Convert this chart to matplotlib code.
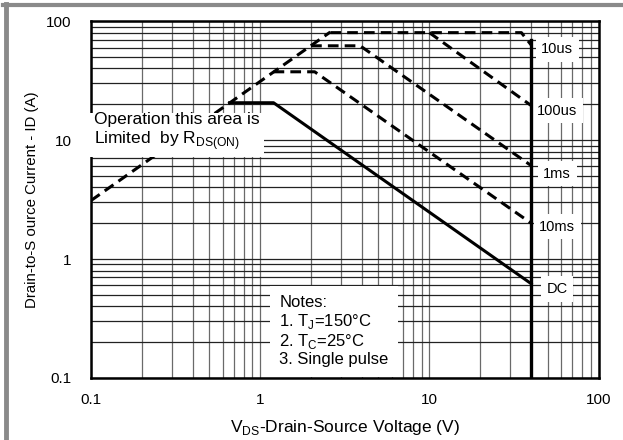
import matplotlib
matplotlib.use('Agg')
import matplotlib.pyplot as plt
from matplotlib.lines import Line2D
from matplotlib.ticker import FixedLocator, NullFormatter


# Safe operating area curves (V, A)

RDS_V = [0.1, 2.6]
RDS_I = [3.1, 81]

US10_V = [2.6, 35, 40]
US10_I = [80, 80, 63]

US100_V = [10, 40]
US100_I = [80, 19.5]

MS1_V = [2.0, 3.9, 40]
MS1_I = [62, 62, 6.1]

MS10_V = [1.2, 2.1, 40]
MS10_I = [37.5, 37.5, 2.0]

DC_V = [0.66, 1.2, 40]
DC_I = [20.6, 20.6, 0.62]

VMAX_V = [40, 40]
VMAX_I = [0.1, 70]

CURVE_LABELS = ['10us', '100us', '1ms', '10ms', 'DC']
TICKS = [0.1, 1, 10, 100]
TICK_LABELS = ['0.1', '1', '10', '100']

FONT = ['Liberation Sans', 'DejaVu Sans']
DASH = (0, (3.5, 2))


def init_fig():
    fig = plt.figure(figsize=(6.23, 4.40), dpi=100)
    # grey frame on the left and top edge, like the screenshot
    fig.add_artist(Line2D([0.009, 0.009], [0, 0.99], color='#8a8a8a',
                          linewidth=3.5, transform=fig.transFigure))
    fig.add_artist(Line2D([0.005, 1], [0.988, 0.988], color='#8a8a8a',
                          linewidth=3, transform=fig.transFigure))
    ax = fig.add_axes([0.146, 0.141, 0.8147, 0.811])
    return fig, ax


def setup_axes(ax):
    ax.set_xscale('log')
    ax.set_yscale('log')
    ax.set_xlim(0.1, 100)
    ax.set_ylim(0.1, 100)
    minors = [m * 10.0 ** e for e in range(-1, 2) for m in range(2, 10)]
    ax.xaxis.set_major_locator(FixedLocator(TICKS))
    ax.yaxis.set_major_locator(FixedLocator(TICKS))
    ax.xaxis.set_minor_locator(FixedLocator(minors))
    ax.yaxis.set_minor_locator(FixedLocator(minors))
    ax.xaxis.set_minor_formatter(NullFormatter())
    ax.yaxis.set_minor_formatter(NullFormatter())
    ax.set_xticklabels(TICK_LABELS, fontfamily=FONT, fontsize=11)
    ax.set_yticklabels(TICK_LABELS, fontfamily=FONT, fontsize=11)
    ax.tick_params(which='both', length=0)
    ax.tick_params(axis='x', pad=11)
    ax.tick_params(axis='y', pad=14)
    ax.grid(axis='x', which='both', color='#6a6a6a', linewidth=0.9)
    ax.grid(axis='y', which='both', color='#222222', linewidth=0.9)
    ax.set_axisbelow(True)
    for s in ax.spines.values():
        s.set_linewidth(1.8)
    ax.set_xlabel('V$_{\\mathregular{DS}}$-Drain-Source Voltage (V)',
                  fontfamily=FONT, fontsize=12.5, labelpad=8)
    ax.set_ylabel('Drain-to-S ource Current - ID (A)',
                  fontfamily=FONT, fontsize=10.8, labelpad=5)


def draw_curves(ax):
    for v, i in [(RDS_V, RDS_I), (US10_V, US10_I), (US100_V, US100_I),
                 (MS1_V, MS1_I), (MS10_V, MS10_I)]:
        ax.plot(v, i, color='black', linewidth=2.2, linestyle=DASH,
                solid_capstyle='butt', zorder=4)
    ax.plot(DC_V, DC_I, color='black', linewidth=2.2, zorder=4)
    ax.plot(VMAX_V, VMAX_I, color='black', linewidth=2.4, zorder=4)


def draw_texts(ax):
    label_i = [58, 17.6, 5.2, 1.86, 0.56]
    for txt, y in zip(CURVE_LABELS, label_i):
        ax.text(57, y, txt, fontfamily=FONT, fontsize=10.5, ha='center',
                va='center', bbox=dict(facecolor='white', edgecolor='none',
                                       pad=4), zorder=3)
    ax.text(0.104, 11.6, 'Operation this area is\nLimited  by R$_{\\mathregular{DS(ON)}}$',
            fontfamily=FONT, fontsize=12.5, ha='left', va='center',
            linespacing=1.15, zorder=5,
            bbox=dict(facecolor='white', edgecolor='none', pad=3))
    ax.text(1.3, 0.123, 'Notes:\n1. T$_{\\mathregular{J}}$=150\u00b0C\n'
            '2. T$_{\\mathregular{C}}$=25\u00b0C\n3. Single pulse',
            fontfamily=FONT, fontsize=12, ha='left', va='bottom',
            linespacing=1.1, zorder=5,
            bbox=dict(facecolor='white', edgecolor='none', pad=7))


def main():
    fig, ax = init_fig()
    setup_axes(ax)
    draw_curves(ax)
    draw_texts(ax)
    fig.savefig('out.png', dpi=100)


if __name__ == "__main__":
    main()
